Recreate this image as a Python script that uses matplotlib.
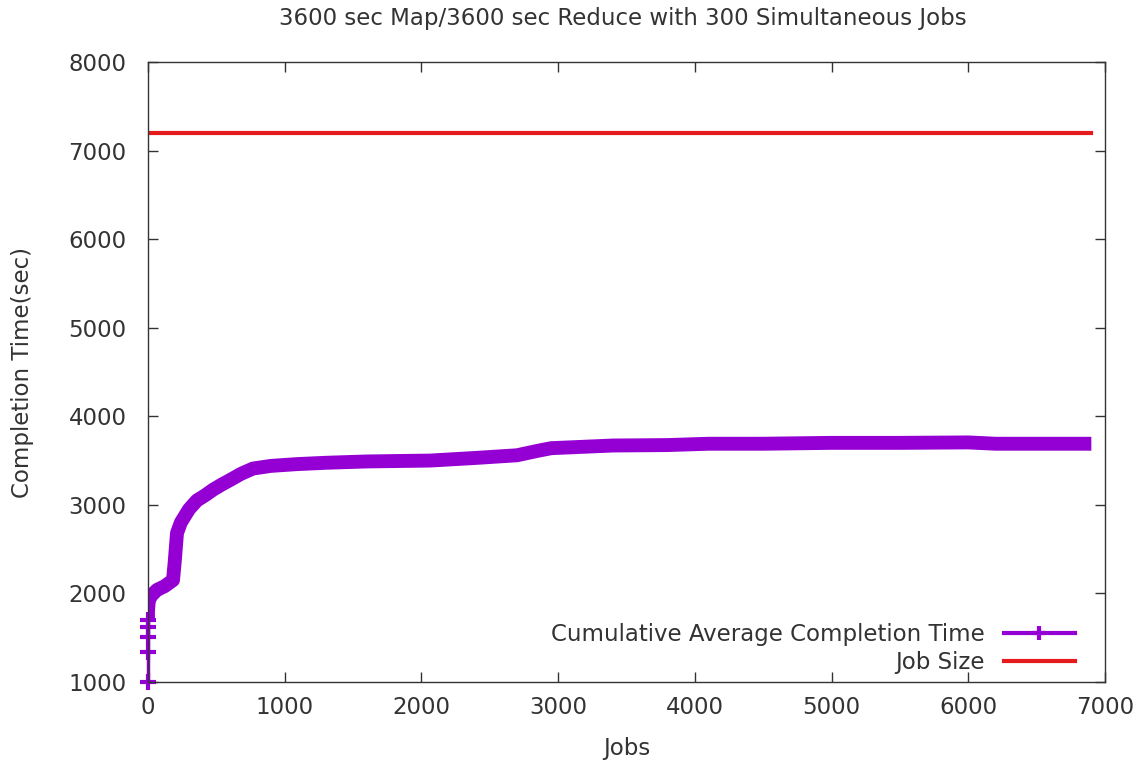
import matplotlib
matplotlib.use("Agg")
import matplotlib.pyplot as plt
from matplotlib.lines import Line2D

plt.rcParams['font.family'] = ['DejaVu Sans']

# Cumulative average completion time
jobs = [0, 0, 0, 0, 0, 0, 5, 15, 40, 66, 120, 183, 195, 212, 240, 300, 358, 420, 475,
        540, 600, 680, 768, 900, 1090, 1300, 1600, 2063, 2400, 2700, 2850, 2950,
        3100, 3400, 3800, 4100, 4500, 5000, 5500, 6000, 6200, 6500, 6900]
avg_time = [1000, 1339, 1508, 1621, 1700, 1800, 1900, 1960, 2000, 2040, 2080, 2150, 2350,
            2680, 2800, 2950, 3050, 3110, 3170, 3230, 3280, 3350, 3410, 3440, 3460,
            3475, 3490, 3500, 3530, 3560, 3610, 3640, 3650, 3670, 3675, 3690, 3690,
            3700, 3700, 3705, 3690, 3690, 3690]

job_size_x = [0, 6900]
job_size_y = [7200, 7200]

xticks = [0, 1000, 2000, 3000, 4000, 5000, 6000, 7000]
yticks = [1000, 2000, 3000, 4000, 5000, 6000, 7000, 8000]

W, H = 1147, 767
fig = plt.figure(figsize=(W/100, H/100), dpi=100)
ax = fig.add_axes([148/W, 1 - 682/H, (1105-148)/W, (682-62)/H])

purple = '#9400d3'
red = '#e41a1c'
txt = '#333333'
fs = 16.5

n0 = 5  # first points plotted as individual '+' marks on a thin line
ax.plot(jobs[:n0], avg_time[:n0], color=purple, lw=2.5, marker='+', markersize=12,
        mew=3, clip_on=False)
ax.plot(jobs[n0 - 1:], avg_time[n0 - 1:], color=purple, lw=10,
        solid_capstyle='butt', solid_joinstyle='round')
ax.plot(job_size_x, job_size_y, color=red, lw=3)

ax.set_xlim(0, 7000)
ax.set_ylim(1000, 8000)
ax.set_xticks(xticks)
ax.set_yticks(yticks)
ax.tick_params(direction='in', length=7, width=1, top=True, right=True,
               labelsize=fs, colors=txt)
ax.tick_params(axis='x', pad=10)
ax.tick_params(axis='y', pad=15.5)
for s in ax.spines.values():
    s.set_linewidth(1)
    s.set_color(txt)

fig.text(623/W, 1 - 18/H, '3600 sec Map/3600 sec Reduce with 300 Simultaneous Jobs',
         fontsize=fs, color=txt, ha='center', va='center')
fig.text(627/W, 1 - 748/H, 'Jobs', fontsize=fs, color=txt, ha='center', va='center')
fig.text(22/W, 1 - 372/H, 'Completion Time(sec)', fontsize=fs, color=txt,
         ha='center', va='center', rotation=90)

h1 = Line2D([], [], color=purple, lw=3, marker='+', markersize=10, mew=3)
h2 = Line2D([], [], color=red, lw=3)
ax.legend([h1, h2], ['Cumulative Average Completion Time', 'Job Size'],
          loc='lower right', frameon=False, markerfirst=False, fontsize=fs,
          handlelength=3.1, labelspacing=0.2, handletextpad=0.85,
          borderpad=0, borderaxespad=0,
          bbox_to_anchor=(1075/W, 1 - 674/H), bbox_transform=fig.transFigure,
          labelcolor=txt)

fig.savefig('out.png', dpi=100)
